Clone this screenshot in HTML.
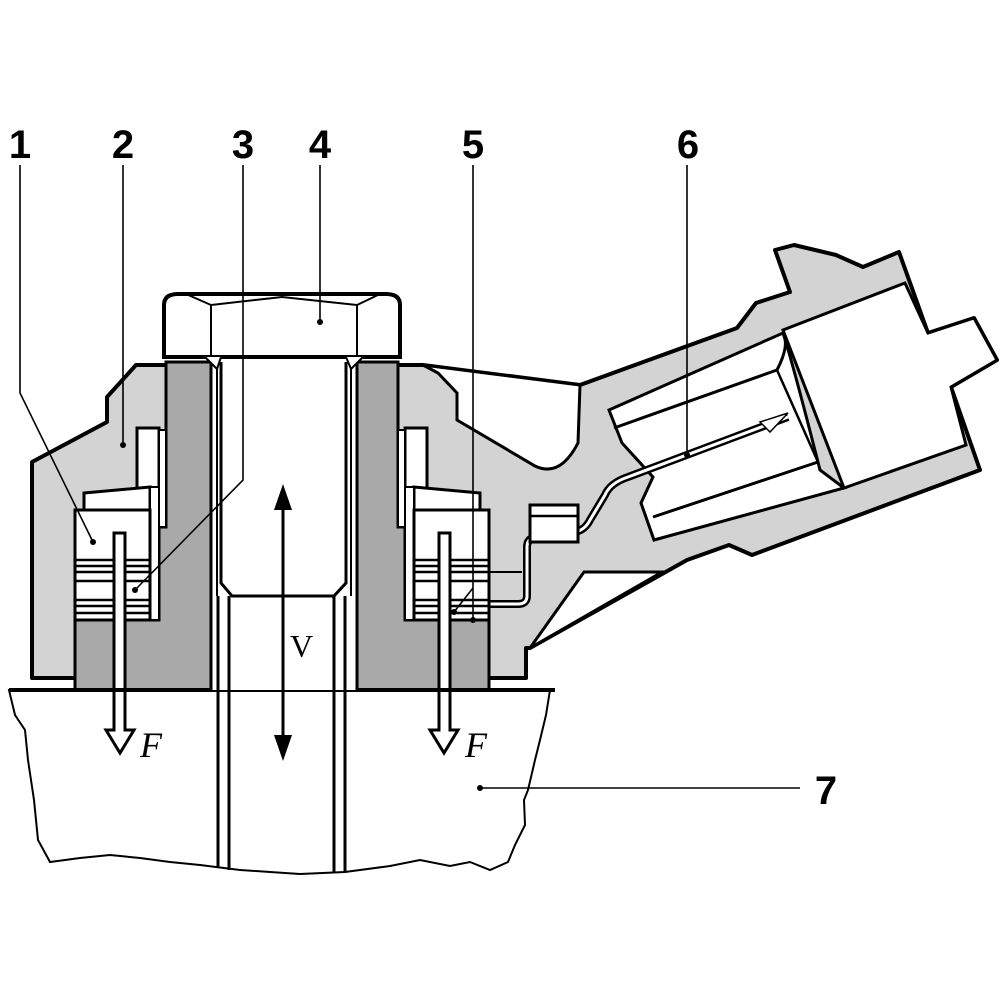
<!DOCTYPE html>
<html><head><meta charset="utf-8"><style>html,body{margin:0;padding:0;background:#fff}svg{display:block}</style></head>
<body>
<svg width="1000" height="1000" viewBox="0 0 1000 1000" xmlns="http://www.w3.org/2000/svg">
<rect width="1000" height="1000" fill="#fff"/>
<!-- base block 7 -->
<path d="M9,690 L550,690 L546,715 L540,740 L535,760 L528,790 L524,800 L525,825 L515,845 L508,862 L490,870 L470,862 L450,866 L420,860 L390,866 L345,872 L300,874 L270,872 L240,870 L200,865 L170,862 L140,858 L110,855 L80,858 L50,862 L38,840 L34,800 L28,760 L25,730 L15,715 Z" fill="#fff" stroke="#000" stroke-width="2"/>
<line x1="218" y1="690" x2="218" y2="868" stroke="#000" stroke-width="3"/>
<line x1="229" y1="690" x2="229" y2="870" stroke="#000" stroke-width="3"/>
<line x1="334" y1="690" x2="334" y2="873" stroke="#000" stroke-width="3"/>
<line x1="345" y1="690" x2="345" y2="872" stroke="#000" stroke-width="3"/>
<!-- housing -->
<path d="M32,462 L107,422 L107,397 L136,365 L423,365 L580,385 L737,328 L756,303 L790,292 L775,250 L794,245 L836,255 L863,267 L899,252 L928,333 L974,318 L997,360 L951,387 L980,470 L752,555 L729,545 L687,560 L530,648 L526,648 L526,678 L475,678 L475,690 L89,690 L89,678 L32,678 Z" fill="#d3d3d3" stroke="#000" stroke-width="4" stroke-linejoin="round"/>
<!-- upper white cavity -->
<path d="M423,365 L438,373 L457,393 L457,420 L535,466 Q560,478 578,443 L580,385 Z" fill="#fff" stroke="#000" stroke-width="3"/>
<!-- lower white triangle -->
<path d="M530,648 L584,572 L662,572 Z" fill="#fff" stroke="#000" stroke-width="3"/>
<!-- connector plug -->
<path d="M783,330 L905,283 L928,333 L974,318 L997,360 L951,387 L966,445 L844,488 Z" fill="#fff" stroke="#000" stroke-width="3"/>
<!-- socket cavity -->
<path d="M609,410 L783,333 Q792,360 820,470 L844,488 L654,540 L641,503 L653,477 L622,443 Z" fill="#fff" stroke="#000" stroke-width="3"/>
<line x1="614" y1="428" x2="777" y2="370" stroke="#000" stroke-width="3"/>
<line x1="653" y1="517" x2="818" y2="462" stroke="#000" stroke-width="3"/>
<path d="M777,370 Q790,345 783,333" fill="none" stroke="#000" stroke-width="3"/>
<line x1="777" y1="370" x2="818" y2="462" stroke="#000" stroke-width="2.5"/>
<!-- pin and wire -->
<path d="M788,417 L628,477 Q610,483 605,495 L590,520 Q585,530 575,532 L535,537 Q527,539 527,547 L527,596 Q527,604 518,604 L487,604" fill="none" stroke="#000" stroke-width="8" stroke-linejoin="round"/>
<path d="M788,417 L628,477 Q610,483 605,495 L590,520 Q585,530 575,532 L535,537 Q527,539 527,547 L527,596 Q527,604 518,604 L487,604" fill="none" stroke="#fff" stroke-width="3" stroke-linejoin="round"/>
<path d="M760,422 L788,413 L770,432 Z" fill="#fff" stroke="#000" stroke-width="1.5"/>
<rect x="530" y="505" width="48" height="37" fill="#fff" stroke="#000" stroke-width="3"/>
<line x1="530" y1="516" x2="578" y2="516" stroke="#000" stroke-width="2.5"/>
<line x1="487" y1="572" x2="522" y2="572" stroke="#000" stroke-width="2"/>
<!-- sides -->
<g id="sideL">
<path d="M166,362 L211,362 L211,690 L75,690 L75,620 L159,620 L159,527 L166,527 Z" fill="#a9a9a9" stroke="#000" stroke-width="3"/>
<rect x="137" y="428" width="22" height="60" fill="#fff" stroke="#000" stroke-width="3"/>
<rect x="159" y="430" width="7" height="97" fill="#fff" stroke="#000" stroke-width="2"/>
<path d="M84,493 L150,487 L150,512 L84,512 Z" fill="#fff" stroke="#000" stroke-width="3"/>
<rect x="150" y="487" width="9" height="133" fill="#fff" stroke="#000" stroke-width="2"/>
<rect x="75" y="510" width="75" height="110" fill="#fff" stroke="#000" stroke-width="3"/>
<line x1="75" y1="560" x2="150" y2="560" stroke="#000" stroke-width="2.5"/>
<line x1="75" y1="566" x2="150" y2="566" stroke="#000" stroke-width="2.5"/>
<line x1="75" y1="572" x2="150" y2="572" stroke="#000" stroke-width="2.5"/>
<line x1="75" y1="581" x2="150" y2="581" stroke="#000" stroke-width="2.5"/>
<line x1="75" y1="600" x2="150" y2="600" stroke="#000" stroke-width="2.5"/>
<line x1="75" y1="606" x2="150" y2="606" stroke="#000" stroke-width="2.5"/>
<line x1="75" y1="613" x2="150" y2="613" stroke="#000" stroke-width="2.5"/>
<path d="M114,533 L125,533 L125,730 L134,730 L120,753 L106,730 L114,730 Z" fill="#fff" stroke="#000" stroke-width="3"/>
<line x1="9" y1="690" x2="218" y2="690" stroke="#000" stroke-width="4"/>
</g>
<use href="#sideL" transform="translate(564,0) scale(-1,1)"/>
<line x1="345" y1="690" x2="550" y2="690" stroke="#000" stroke-width="4"/>
<!-- bolt shaft -->
<rect x="211" y="357" width="146" height="333" fill="#fff"/>
<line x1="211" y1="357" x2="211" y2="690" stroke="#000" stroke-width="3"/>
<line x1="357" y1="357" x2="357" y2="690" stroke="#000" stroke-width="3"/>
<line x1="217" y1="365" x2="217" y2="596" stroke="#000" stroke-width="2"/>
<line x1="351" y1="365" x2="351" y2="596" stroke="#000" stroke-width="2"/>
<path d="M221,362 L221,583 L232,596 L334,596 L346,583 L346,362" fill="none" stroke="#000" stroke-width="3"/>
<line x1="218" y1="596" x2="218" y2="690" stroke="#000" stroke-width="3"/>
<line x1="229" y1="596" x2="229" y2="690" stroke="#000" stroke-width="3"/>
<line x1="334" y1="596" x2="334" y2="690" stroke="#000" stroke-width="3"/>
<line x1="345" y1="596" x2="345" y2="690" stroke="#000" stroke-width="3"/>
<!-- bolt head -->
<path d="M164,357 L164,305 Q164,294 178,294 L386,294 Q400,294 400,305 L400,357 Z" fill="#fff" stroke="#000" stroke-width="4"/>
<path d="M211,357 L211,305 L282,297 L357,305 L357,357" fill="none" stroke="#000" stroke-width="2"/>
<path d="M186,294 L211,305 M380,294 L357,305" stroke="#000" stroke-width="2"/>
<path d="M205,357 L217,369 L221,357 M363,357 L351,369 L346,357" fill="#fff" stroke="#000" stroke-width="2"/>
<!-- V double arrow -->
<line x1="283" y1="505" x2="283" y2="740" stroke="#000" stroke-width="3"/>
<path d="M274,510 L283,484 L292,510 Z M274,735 L283,761 L292,735 Z" fill="#000"/>
<text x="290" y="657" font-family="Liberation Serif, serif" font-size="32">V</text>
<text x="140" y="757" font-family="Liberation Serif, serif" font-style="italic" font-size="36">F</text>
<text x="465" y="757" font-family="Liberation Serif, serif" font-style="italic" font-size="36">F</text>
<!-- leaders -->
<g stroke="#000" stroke-width="1.6" fill="none">
<path d="M20,165 L20,393 L93,542"/>
<path d="M123,165 L123,445"/>
<path d="M243,165 L243,480 L135,590"/>
<path d="M320,165 L320,322"/>
<path d="M473,165 L473,620"/>
<path d="M473,588 L454,612"/>
<path d="M687,165 L687,455"/>
<path d="M480,788 L800,788"/>
</g>
<g fill="#000">
<circle cx="93" cy="542" r="3"/><circle cx="123" cy="445" r="3"/><circle cx="135" cy="590" r="3"/>
<circle cx="320" cy="322" r="3"/><circle cx="473" cy="620" r="3"/><circle cx="454" cy="612" r="3"/>
<circle cx="687" cy="455" r="3"/><circle cx="480" cy="788" r="3"/>
</g>
<g font-family="Liberation Sans, sans-serif" font-weight="bold" font-size="40" text-anchor="middle">
<text x="20" y="158">1</text><text x="123" y="158">2</text><text x="243" y="158">3</text>
<text x="320" y="158">4</text><text x="473" y="158">5</text><text x="688" y="158">6</text>
<text x="826" y="804">7</text>
</g>
</svg>
</body></html>
